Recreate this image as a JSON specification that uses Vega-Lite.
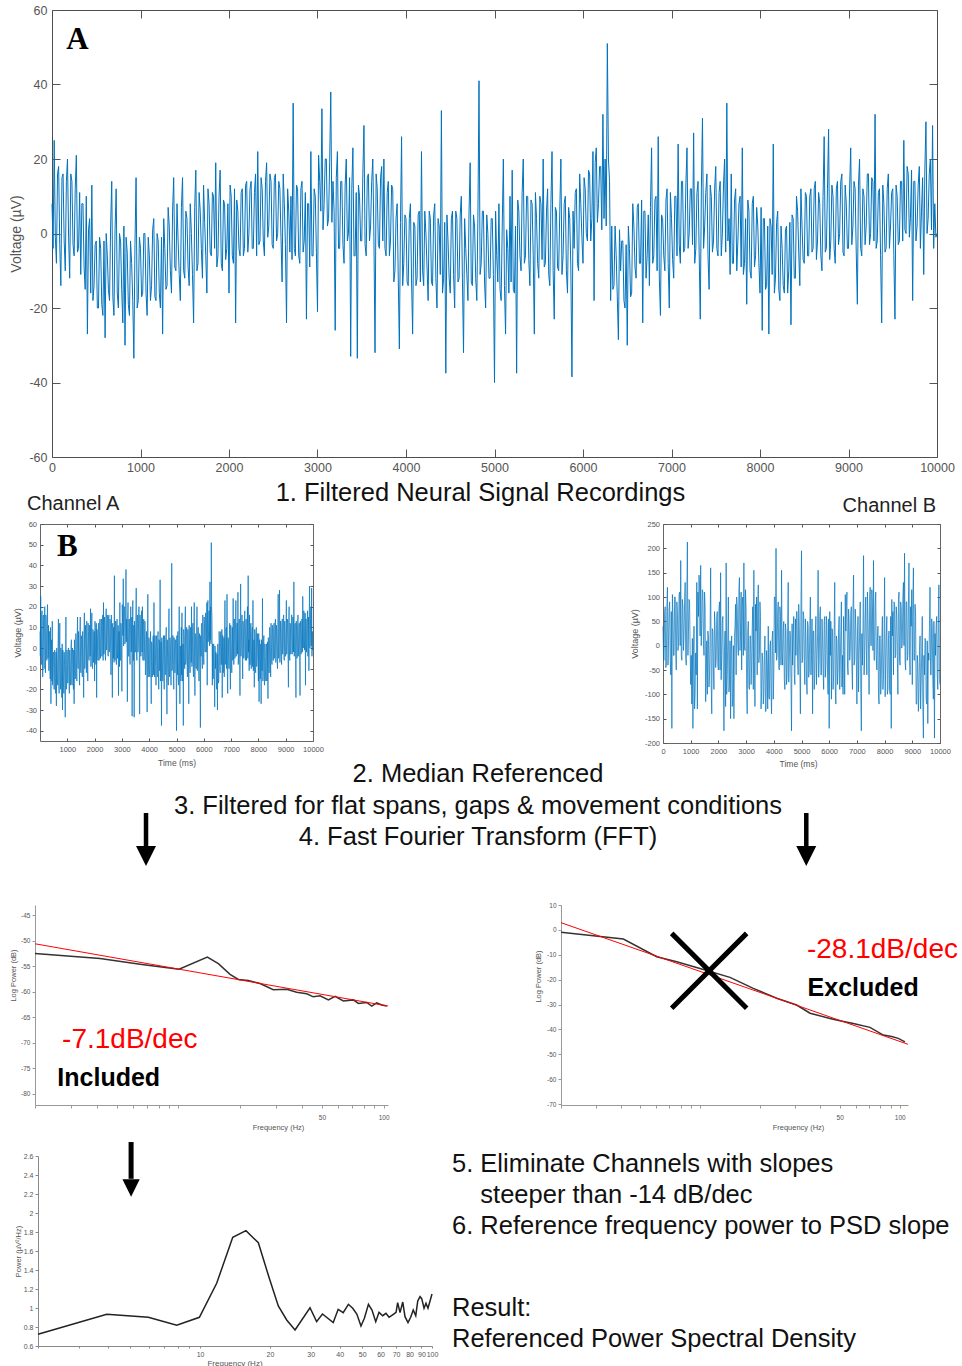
{
"$schema":"https://vega.github.io/schema/vega-lite/v6.json",
"padding":0,
"background":"white",
"config":{
 "font":"Liberation Sans",
 "view":{"stroke":null},
 "axis":{"grid":false,"labelFont":"Liberation Sans","titleFont":"Liberation Sans","titleFontWeight":"normal","labelFlush":false,"labelOverlap":false,"labelColor":"#555","titleColor":"#555","domainColor":"#555","tickColor":"#555"},
 "title":{"font":"Liberation Sans","fontWeight":"normal","color":"#111","subtitleFont":"Liberation Sans","subtitleColor":"#111"}
},
"datasets":{
"chA":[{"t":0,"v":8},{"t":12.5,"v":-4},{"t":25,"v":25},{"t":37.5,"v":-1},{"t":50,"v":-8},{"t":62.5,"v":16},{"t":75,"v":18},{"t":87.5,"v":-3},{"t":100,"v":-14},{"t":112.5,"v":15},{"t":125,"v":16},{"t":137.5,"v":-2},{"t":150,"v":-10},{"t":162.5,"v":14},{"t":175,"v":20},{"t":187.5,"v":-1},{"t":200,"v":-12},{"t":212.5,"v":16},{"t":225,"v":14},{"t":237.5,"v":-3},
{"t":250,"v":-6},{"t":262.5,"v":12},{"t":275,"v":21},{"t":287.5,"v":-5},{"t":300,"v":-4},{"t":312.5,"v":11},{"t":325,"v":-11},{"t":337.5,"v":8},{"t":350,"v":8},{"t":362.5,"v":-9},{"t":375,"v":-15},{"t":387.5,"v":10},{"t":400,"v":-27},{"t":412.5,"v":1},{"t":425,"v":4},{"t":437.5,"v":-16},{"t":450,"v":13},{"t":462.5,"v":-18},{"t":475,"v":-14},{"t":487.5,"v":-3},
{"t":500,"v":-2},{"t":512.5,"v":-20},{"t":525,"v":-20},{"t":537.5,"v":-1},{"t":550,"v":-4},{"t":562.5,"v":-19},{"t":575,"v":-22},{"t":587.5,"v":-2},{"t":600,"v":-28},{"t":612.5,"v":0},{"t":625,"v":-6},{"t":637.5,"v":-15},{"t":650,"v":-18},{"t":662.5,"v":2},{"t":675,"v":14},{"t":687.5,"v":-17},{"t":700,"v":-22},{"t":712.5,"v":1},{"t":725,"v":12},{"t":737.5,"v":-16},
{"t":750,"v":-20},{"t":762.5,"v":0},{"t":775,"v":-2},{"t":787.5,"v":-15},{"t":800,"v":-24},{"t":812.5,"v":2},{"t":825,"v":-30},{"t":837.5,"v":-1},{"t":850,"v":-5},{"t":862.5,"v":-19},{"t":875,"v":-22},{"t":887.5,"v":-2},{"t":900,"v":-8},{"t":912.5,"v":-18},{"t":925,"v":-33.5},{"t":937.5,"v":-3},{"t":950,"v":15},{"t":962.5,"v":-20},{"t":975,"v":-18},{"t":987.5,"v":-1},
{"t":1000,"v":-4},{"t":1012.5,"v":-17},{"t":1025,"v":-16},{"t":1037.5,"v":0},{"t":1050,"v":0},{"t":1062.5,"v":-16},{"t":1075,"v":-22},{"t":1087.5,"v":-1},{"t":1100,"v":-6},{"t":1112.5,"v":-18},{"t":1125,"v":-14},{"t":1137.5,"v":1},{"t":1150,"v":4},{"t":1162.5,"v":-17},{"t":1175,"v":-18},{"t":1187.5,"v":0},{"t":1200,"v":-2},{"t":1212.5,"v":-16},{"t":1225,"v":-20},{"t":1237.5,"v":-1},
{"t":1250,"v":-27},{"t":1262.5,"v":4},{"t":1275,"v":-4},{"t":1287.5,"v":-15},{"t":1300,"v":-14},{"t":1312.5,"v":7},{"t":1325,"v":2},{"t":1337.5,"v":-10},{"t":1350,"v":-16},{"t":1362.5,"v":6},{"t":1375,"v":15},{"t":1387.5,"v":-9},{"t":1400,"v":-10},{"t":1412.5,"v":8},{"t":1425,"v":-2},{"t":1437.5,"v":-11},{"t":1450,"v":-18},{"t":1462.5,"v":7},{"t":1475,"v":15},{"t":1487.5,"v":-10},
{"t":1500,"v":-12},{"t":1512.5,"v":6},{"t":1525,"v":4},{"t":1537.5,"v":-9},{"t":1550,"v":-14},{"t":1562.5,"v":8},{"t":1575,"v":0},{"t":1587.5,"v":-11},{"t":1600,"v":-24},{"t":1612.5,"v":7},{"t":1625,"v":17},{"t":1637.5,"v":-10},{"t":1650,"v":-8},{"t":1662.5,"v":11},{"t":1675,"v":6},{"t":1687.5,"v":-4},{"t":1700,"v":-12},{"t":1712.5,"v":13},{"t":1725,"v":3},{"t":1737.5,"v":-6},
{"t":1750,"v":-16},{"t":1762.5,"v":12},{"t":1775,"v":8},{"t":1787.5,"v":-5},{"t":1800,"v":-6},{"t":1812.5,"v":11},{"t":1825,"v":10},{"t":1837.5,"v":-4},{"t":1850,"v":19},{"t":1862.5,"v":-9},{"t":1875,"v":-6},{"t":1887.5,"v":10},{"t":1900,"v":17},{"t":1912.5,"v":-8},{"t":1925,"v":-10},{"t":1937.5,"v":9},{"t":1950,"v":8},{"t":1962.5,"v":-7},{"t":1975,"v":-4},{"t":1987.5,"v":8},
{"t":2000,"v":-16},{"t":2012.5,"v":13},{"t":2025,"v":10},{"t":2037.5,"v":-6},{"t":2050,"v":-8},{"t":2062.5,"v":12},{"t":2075,"v":-24},{"t":2087.5,"v":9},{"t":2100,"v":6},{"t":2112.5,"v":-4},{"t":2125,"v":-6},{"t":2137.5,"v":11},{"t":2150,"v":12},{"t":2162.5,"v":-6},{"t":2175,"v":-4},{"t":2187.5,"v":13},{"t":2200,"v":14},{"t":2212.5,"v":-5},{"t":2225,"v":0},{"t":2237.5,"v":12},
{"t":2250,"v":14},{"t":2262.5,"v":-4},{"t":2275,"v":-4},{"t":2287.5,"v":11},{"t":2300,"v":16},{"t":2312.5,"v":-6},{"t":2325,"v":22},{"t":2337.5,"v":-3},{"t":2350,"v":-2},{"t":2362.5,"v":15},{"t":2375,"v":12},{"t":2387.5,"v":-2},{"t":2400,"v":-6},{"t":2412.5,"v":14},{"t":2425,"v":19},{"t":2437.5,"v":-1},{"t":2450,"v":2},{"t":2462.5,"v":16},{"t":2475,"v":14},{"t":2487.5,"v":-3},
{"t":2500,"v":-4},{"t":2512.5,"v":15},{"t":2525,"v":16},{"t":2537.5,"v":-2},{"t":2550,"v":0},{"t":2562.5,"v":14},{"t":2575,"v":12},{"t":2587.5,"v":-1},{"t":2600,"v":-13},{"t":2612.5,"v":16},{"t":2625,"v":8},{"t":2637.5,"v":-3},{"t":2650,"v":-24},{"t":2662.5,"v":12},{"t":2675,"v":6},{"t":2687.5,"v":-5},{"t":2700,"v":10},{"t":2712.5,"v":-7},{"t":2725,"v":35},{"t":2737.5,"v":-4},
{"t":2750,"v":-6},{"t":2762.5,"v":13},{"t":2775,"v":12},{"t":2787.5,"v":-6},{"t":2800,"v":-8},{"t":2812.5,"v":12},{"t":2825,"v":14},{"t":2837.5,"v":-5},{"t":2850,"v":-2},{"t":2862.5,"v":11},{"t":2875,"v":-23},{"t":2887.5,"v":8},{"t":2900,"v":8},{"t":2912.5,"v":-9},{"t":2925,"v":22},{"t":2937.5,"v":-6},{"t":2950,"v":-6},{"t":2962.5,"v":12},{"t":2975,"v":10},{"t":2987.5,"v":-5},
{"t":3000,"v":-21},{"t":3012.5,"v":21},{"t":3025,"v":14},{"t":3037.5,"v":6},{"t":3050,"v":33.5},{"t":3062.5,"v":1},{"t":3075,"v":8},{"t":3087.5,"v":20},{"t":3100,"v":20},{"t":3112.5,"v":2},{"t":3125,"v":4},{"t":3137.5,"v":19},{"t":3150,"v":38},{"t":3162.5,"v":3},{"t":3175,"v":14},{"t":3187.5,"v":6},{"t":3200,"v":-26},{"t":3212.5,"v":15},{"t":3225,"v":22},{"t":3237.5,"v":-4},
{"t":3250,"v":-4},{"t":3262.5,"v":14},{"t":3275,"v":14},{"t":3287.5,"v":-3},{"t":3300,"v":-8},{"t":3312.5,"v":13},{"t":3325,"v":20},{"t":3337.5,"v":-2},{"t":3350,"v":0},{"t":3362.5,"v":15},{"t":3375,"v":-33},{"t":3387.5,"v":12},{"t":3400,"v":23},{"t":3412.5,"v":-6},{"t":3425,"v":-6},{"t":3437.5,"v":11},{"t":3450,"v":-33.5},{"t":3462.5,"v":13},{"t":3475,"v":10},{"t":3487.5,"v":-2},
{"t":3500,"v":-2},{"t":3512.5,"v":16},{"t":3525,"v":29},{"t":3537.5,"v":-3},{"t":3550,"v":-6},{"t":3562.5,"v":15},{"t":3575,"v":16},{"t":3587.5,"v":-2},{"t":3600,"v":2},{"t":3612.5,"v":14},{"t":3625,"v":20},{"t":3637.5,"v":-1},{"t":3650,"v":-32},{"t":3662.5,"v":16},{"t":3675,"v":12},{"t":3687.5,"v":-3},{"t":3700,"v":-4},{"t":3712.5,"v":15},{"t":3725,"v":18},{"t":3737.5,"v":-2},
{"t":3750,"v":20},{"t":3762.5,"v":-4},{"t":3775,"v":-6},{"t":3787.5,"v":11},{"t":3800,"v":14},{"t":3812.5,"v":-6},{"t":3825,"v":-2},{"t":3837.5,"v":13},{"t":3850,"v":12},{"t":3862.5,"v":-13},{"t":3875,"v":-10},{"t":3887.5,"v":4},{"t":3900,"v":8},{"t":3912.5,"v":-12},{"t":3925,"v":-31},{"t":3937.5,"v":3},{"t":3950,"v":26},{"t":3962.5,"v":-14},{"t":3975,"v":-8},{"t":3987.5,"v":5},
{"t":4000,"v":4},{"t":4012.5,"v":-13},{"t":4025,"v":-14},{"t":4037.5,"v":4},{"t":4050,"v":8},{"t":4062.5,"v":-12},{"t":4075,"v":-27},{"t":4087.5,"v":3},{"t":4100,"v":2},{"t":4112.5,"v":-14},{"t":4125,"v":-12},{"t":4137.5,"v":5},{"t":4150,"v":6},{"t":4162.5,"v":-13},{"t":4175,"v":22},{"t":4187.5,"v":-10},{"t":4200,"v":-14},{"t":4212.5,"v":6},{"t":4225,"v":0},{"t":4237.5,"v":-9},
{"t":4250,"v":-18},{"t":4262.5,"v":6},{"t":4275,"v":4},{"t":4287.5,"v":-13},{"t":4300,"v":-14},{"t":4312.5,"v":5},{"t":4325,"v":8},{"t":4337.5,"v":-12},{"t":4350,"v":-20},{"t":4362.5,"v":4},{"t":4375,"v":2},{"t":4387.5,"v":-11},{"t":4400,"v":33},{"t":4412.5,"v":-16},{"t":4425,"v":-12},{"t":4437.5,"v":3},{"t":4450,"v":-37.5},{"t":4462.5,"v":5},{"t":4475,"v":-2},{"t":4487.5,"v":-12},
{"t":4500,"v":-16},{"t":4512.5,"v":4},{"t":4525,"v":6},{"t":4537.5,"v":-11},{"t":4550,"v":-20},{"t":4562.5,"v":6},{"t":4575,"v":4},{"t":4587.5,"v":-13},{"t":4600,"v":-12},{"t":4612.5,"v":5},{"t":4625,"v":10},{"t":4637.5,"v":-12},{"t":4650,"v":-32},{"t":4662.5,"v":4},{"t":4675,"v":-4},{"t":4687.5,"v":-11},{"t":4700,"v":-18},{"t":4712.5,"v":6},{"t":4725,"v":19},{"t":4737.5,"v":-13},
{"t":4750,"v":-14},{"t":4762.5,"v":5},{"t":4775,"v":2},{"t":4787.5,"v":-12},{"t":4800,"v":-18},{"t":4812.5,"v":4},{"t":4825,"v":41},{"t":4837.5,"v":-11},{"t":4850,"v":-8},{"t":4862.5,"v":6},{"t":4875,"v":6},{"t":4887.5,"v":-13},{"t":4900,"v":-20},{"t":4912.5,"v":5},{"t":4925,"v":0},{"t":4937.5,"v":-12},{"t":4950,"v":-12},{"t":4962.5,"v":4},{"t":4975,"v":4},{"t":4987.5,"v":-11},
{"t":5000,"v":-40},{"t":5012.5,"v":6},{"t":5025,"v":-6},{"t":5037.5,"v":-13},{"t":5050,"v":8},{"t":5062.5,"v":-15},{"t":5075,"v":-18},{"t":5087.5,"v":2},{"t":5100,"v":20},{"t":5112.5,"v":-14},{"t":5125,"v":-27},{"t":5137.5,"v":1},{"t":5150,"v":-4},{"t":5162.5,"v":-16},{"t":5175,"v":10},{"t":5187.5,"v":-13},{"t":5200,"v":17},{"t":5212.5,"v":-15},{"t":5225,"v":-16},{"t":5237.5,"v":2},
{"t":5250,"v":-37.5},{"t":5262.5,"v":9},{"t":5275,"v":6},{"t":5287.5,"v":-6},{"t":5300,"v":-10},{"t":5312.5,"v":11},{"t":5325,"v":20},{"t":5337.5,"v":-8},{"t":5350,"v":-6},{"t":5362.5,"v":10},{"t":5375,"v":10},{"t":5387.5,"v":-7},{"t":5400,"v":-14},{"t":5412.5,"v":9},{"t":5425,"v":8},{"t":5437.5,"v":-6},{"t":5450,"v":-27},{"t":5462.5,"v":11},{"t":5475,"v":4},{"t":5487.5,"v":-8},
{"t":5500,"v":-12},{"t":5512.5,"v":10},{"t":5525,"v":8},{"t":5537.5,"v":-7},{"t":5550,"v":20},{"t":5562.5,"v":-9},{"t":5575,"v":-8},{"t":5587.5,"v":6},{"t":5600,"v":12},{"t":5612.5,"v":-11},{"t":5625,"v":-14},{"t":5637.5,"v":8},{"t":5650,"v":22},{"t":5662.5,"v":-10},{"t":5675,"v":-23},{"t":5687.5,"v":7},{"t":5700,"v":6},{"t":5712.5,"v":-9},{"t":5725,"v":-10},{"t":5737.5,"v":6},
{"t":5750,"v":20},{"t":5762.5,"v":-11},{"t":5775,"v":-6},{"t":5787.5,"v":8},{"t":5800,"v":10},{"t":5812.5,"v":-10},{"t":5825,"v":-16},{"t":5837.5,"v":7},{"t":5850,"v":4},{"t":5862.5,"v":-9},{"t":5875,"v":-38.5},{"t":5887.5,"v":6},{"t":5900,"v":-4},{"t":5912.5,"v":11},{"t":5925,"v":12},{"t":5937.5,"v":-8},{"t":5950,"v":-10},{"t":5962.5,"v":16},{"t":5975,"v":8},{"t":5987.5,"v":-1},
{"t":6000,"v":-8},{"t":6012.5,"v":15},{"t":6025,"v":12},{"t":6037.5,"v":0},{"t":6050,"v":-2},{"t":6062.5,"v":17},{"t":6075,"v":16},{"t":6087.5,"v":-2},{"t":6100,"v":4},{"t":6112.5,"v":22},{"t":6125,"v":-18},{"t":6137.5,"v":19},{"t":6150,"v":23},{"t":6162.5,"v":3},{"t":6175,"v":8},{"t":6187.5,"v":18},{"t":6200,"v":18},{"t":6212.5,"v":1},{"t":6225,"v":32},{"t":6237.5,"v":4},
{"t":6250,"v":20},{"t":6262.5,"v":2},{"t":6275,"v":51},{"t":6287.5,"v":20},{"t":6300,"v":14},{"t":6312.5,"v":-18},{"t":6325,"v":2},{"t":6337.5,"v":-15},{"t":6350,"v":-14},{"t":6362.5,"v":2},{"t":6375,"v":-6},{"t":6387.5,"v":-17},{"t":6400,"v":-28.5},{"t":6412.5,"v":1},{"t":6425,"v":-10},{"t":6437.5,"v":-2},{"t":6450,"v":-2},{"t":6462.5,"v":-18},{"t":6475,"v":-20},{"t":6487.5,"v":-3},
{"t":6500,"v":-30},{"t":6512.5,"v":2},{"t":6525,"v":-4},{"t":6537.5,"v":-17},{"t":6550,"v":-16},{"t":6562.5,"v":8},{"t":6575,"v":2},{"t":6587.5,"v":-9},{"t":6600,"v":-12},{"t":6612.5,"v":7},{"t":6625,"v":8},{"t":6637.5,"v":-8},{"t":6650,"v":-8},{"t":6662.5,"v":9},{"t":6675,"v":-24},{"t":6687.5,"v":6},{"t":6700,"v":6},{"t":6712.5,"v":-12},{"t":6725,"v":-6},{"t":6737.5,"v":5},
{"t":6750,"v":-14},{"t":6762.5,"v":7},{"t":6775,"v":23},{"t":6787.5,"v":-8},{"t":6800,"v":-6},{"t":6812.5,"v":9},{"t":6825,"v":10},{"t":6837.5,"v":-10},{"t":6850,"v":26},{"t":6862.5,"v":-12},{"t":6875,"v":-22},{"t":6887.5,"v":5},{"t":6900,"v":4},{"t":6912.5,"v":-6},{"t":6925,"v":-10},{"t":6937.5,"v":9},{"t":6950,"v":12},{"t":6962.5,"v":-8},{"t":6975,"v":-20},{"t":6987.5,"v":11},
{"t":7000,"v":4},{"t":7012.5,"v":-7},{"t":7025,"v":-12},{"t":7037.5,"v":10},{"t":7050,"v":10},{"t":7062.5,"v":-6},{"t":7075,"v":24},{"t":7087.5,"v":-3},{"t":7100,"v":-8},{"t":7112.5,"v":14},{"t":7125,"v":14},{"t":7137.5,"v":-5},{"t":7150,"v":-4},{"t":7162.5,"v":13},{"t":7175,"v":23},{"t":7187.5,"v":-4},{"t":7200,"v":0},{"t":7212.5,"v":12},{"t":7225,"v":12},{"t":7237.5,"v":-3},
{"t":7250,"v":27},{"t":7262.5,"v":-8},{"t":7275,"v":-4},{"t":7287.5,"v":11},{"t":7300,"v":14},{"t":7312.5,"v":-5},{"t":7325,"v":-23},{"t":7337.5,"v":12},{"t":7350,"v":31},{"t":7362.5,"v":-4},{"t":7375,"v":2},{"t":7387.5,"v":11},{"t":7400,"v":16},{"t":7412.5,"v":-6},{"t":7425,"v":-15},{"t":7437.5,"v":13},{"t":7450,"v":10},{"t":7462.5,"v":-5},{"t":7475,"v":-2},{"t":7487.5,"v":12},
{"t":7500,"v":18},{"t":7512.5,"v":-4},{"t":7525,"v":-6},{"t":7537.5,"v":11},{"t":7550,"v":14},{"t":7562.5,"v":-6},{"t":7575,"v":0},{"t":7587.5,"v":13},{"t":7600,"v":20},{"t":7612.5,"v":-5},{"t":7625,"v":35},{"t":7637.5,"v":-2},{"t":7650,"v":4},{"t":7662.5,"v":-11},{"t":7675,"v":16},{"t":7687.5,"v":-8},{"t":7700,"v":-8},{"t":7712.5,"v":9},{"t":7725,"v":12},{"t":7737.5,"v":-10},
{"t":7750,"v":-2},{"t":7762.5,"v":8},{"t":7775,"v":10},{"t":7787.5,"v":-9},{"t":7800,"v":23},{"t":7812.5,"v":-11},{"t":7825,"v":-8},{"t":7837.5,"v":4},{"t":7850,"v":-19},{"t":7862.5,"v":9},{"t":7875,"v":6},{"t":7887.5,"v":-10},{"t":7900,"v":-12},{"t":7912.5,"v":8},{"t":7925,"v":10},{"t":7937.5,"v":-9},{"t":7950,"v":-6},{"t":7962.5,"v":7},{"t":7975,"v":2},{"t":7987.5,"v":-8},
{"t":8000,"v":-16},{"t":8012.5,"v":7},{"t":8025,"v":-26},{"t":8037.5,"v":4},{"t":8050,"v":4},{"t":8062.5,"v":-15},{"t":8075,"v":-14},{"t":8087.5,"v":2},{"t":8100,"v":-27},{"t":8112.5,"v":4},{"t":8125,"v":2},{"t":8137.5,"v":-11},{"t":8150,"v":24},{"t":8162.5,"v":-16},{"t":8175,"v":-12},{"t":8187.5,"v":3},{"t":8200,"v":6},{"t":8212.5,"v":-15},{"t":8225,"v":-18},{"t":8237.5,"v":2},
{"t":8250,"v":-4},{"t":8262.5,"v":-14},{"t":8275,"v":-16},{"t":8287.5,"v":1},{"t":8300,"v":2},{"t":8312.5,"v":-16},{"t":8325,"v":-10},{"t":8337.5,"v":3},{"t":8350,"v":-24.5},{"t":8362.5,"v":5},{"t":8375,"v":4},{"t":8387.5,"v":-12},{"t":8400,"v":-12},{"t":8412.5,"v":10},{"t":8425,"v":6},{"t":8437.5,"v":-5},{"t":8450,"v":-14},{"t":8462.5,"v":12},{"t":8475,"v":2},{"t":8487.5,"v":-7},
{"t":8500,"v":-8},{"t":8512.5,"v":11},{"t":8525,"v":10},{"t":8537.5,"v":-6},{"t":8550,"v":-6},{"t":8562.5,"v":10},{"t":8575,"v":12},{"t":8587.5,"v":-5},{"t":8600,"v":-4},{"t":8612.5,"v":12},{"t":8625,"v":14},{"t":8637.5,"v":-7},{"t":8650,"v":-2},{"t":8662.5,"v":11},{"t":8675,"v":8},{"t":8687.5,"v":-6},{"t":8700,"v":-10},{"t":8712.5,"v":10},{"t":8725,"v":26},{"t":8737.5,"v":-5},
{"t":8750,"v":-4},{"t":8762.5,"v":12},{"t":8775,"v":28},{"t":8787.5,"v":-7},{"t":8800,"v":-2},{"t":8812.5,"v":13},{"t":8825,"v":10},{"t":8837.5,"v":-4},{"t":8850,"v":-8},{"t":8862.5,"v":12},{"t":8875,"v":14},{"t":8887.5,"v":-3},{"t":8900,"v":0},{"t":8912.5,"v":14},{"t":8925,"v":16},{"t":8937.5,"v":-5},{"t":8950,"v":-6},{"t":8962.5,"v":13},{"t":8975,"v":8},{"t":8987.5,"v":-4},
{"t":9000,"v":-4},{"t":9012.5,"v":12},{"t":9025,"v":23},{"t":9037.5,"v":-3},{"t":9050,"v":2},{"t":9062.5,"v":14},{"t":9075,"v":12},{"t":9087.5,"v":-5},{"t":9100,"v":-19},{"t":9112.5,"v":13},{"t":9125,"v":20},{"t":9137.5,"v":-4},{"t":9150,"v":-6},{"t":9162.5,"v":12},{"t":9175,"v":10},{"t":9187.5,"v":-3},{"t":9200,"v":2},{"t":9212.5,"v":16},{"t":9225,"v":16},{"t":9237.5,"v":-3},
{"t":9250,"v":0},{"t":9262.5,"v":15},{"t":9275,"v":14},{"t":9287.5,"v":-2},{"t":9300,"v":32},{"t":9312.5,"v":-4},{"t":9325,"v":-2},{"t":9337.5,"v":11},{"t":9350,"v":12},{"t":9362.5,"v":-6},{"t":9375,"v":-24},{"t":9387.5,"v":13},{"t":9400,"v":8},{"t":9412.5,"v":-5},{"t":9425,"v":-4},{"t":9437.5,"v":12},{"t":9450,"v":16},{"t":9462.5,"v":-4},{"t":9475,"v":2},{"t":9487.5,"v":11},
{"t":9500,"v":12},{"t":9512.5,"v":-6},{"t":9525,"v":-23},{"t":9537.5,"v":13},{"t":9550,"v":10},{"t":9562.5,"v":-3},{"t":9575,"v":-2},{"t":9587.5,"v":14},{"t":9600,"v":14},{"t":9612.5,"v":-2},{"t":9625,"v":25},{"t":9637.5,"v":1},{"t":9650,"v":0},{"t":9662.5,"v":18},{"t":9675,"v":16},{"t":9687.5,"v":-1},{"t":9700,"v":4},{"t":9712.5,"v":17},{"t":9725,"v":-18},{"t":9737.5,"v":14},
{"t":9750,"v":14},{"t":9762.5,"v":-2},{"t":9775,"v":2},{"t":9787.5,"v":13},{"t":9800,"v":18},{"t":9812.5,"v":-4},{"t":9825,"v":6},{"t":9837.5,"v":15},{"t":9850,"v":-11},{"t":9862.5,"v":17},{"t":9875,"v":30},{"t":9887.5,"v":0},{"t":9900,"v":4},{"t":9912.5,"v":16},{"t":9925,"v":20},{"t":9937.5,"v":1},{"t":9950,"v":29},{"t":9962.5,"v":-4},{"t":9975,"v":8},{"t":9987.5,"v":-1},
{"t":10000,"v":0}],
"chB":[{"t":0,"v":40},{"t":20,"v":-30},{"t":40,"v":-30},{"t":60,"v":70},{"t":80,"v":80},{"t":100,"v":-45},{"t":120,"v":-40},{"t":140,"v":80},{"t":160,"v":120},{"t":180,"v":-40},{"t":200,"v":10},{"t":220,"v":75},{"t":240,"v":90},{"t":260,"v":-30},{"t":280,"v":-60},{"t":300,"v":70},{"t":320,"v":-170},{"t":340,"v":105},{"t":360,"v":60},{"t":380,"v":-20},
{"t":400,"v":-20},{"t":420,"v":100},{"t":440,"v":100},{"t":460,"v":-15},{"t":480,"v":-50},{"t":500,"v":90},{"t":520,"v":70},{"t":540,"v":-10},{"t":560,"v":0},{"t":580,"v":105},{"t":600,"v":110},{"t":620,"v":0},{"t":640,"v":175},{"t":660,"v":-20},{"t":680,"v":-30},{"t":700,"v":95},{"t":720,"v":80},{"t":740,"v":-10},{"t":760,"v":20},{"t":780,"v":90},
{"t":800,"v":130},{"t":820,"v":-25},{"t":840,"v":-40},{"t":860,"v":100},{"t":880,"v":213},{"t":900,"v":-20},{"t":920,"v":30},{"t":940,"v":95},{"t":960,"v":90},{"t":980,"v":-10},{"t":1000,"v":-80},{"t":1020,"v":-20},{"t":1040,"v":-120},{"t":1060,"v":15},{"t":1080,"v":-170},{"t":1100,"v":-10},{"t":1120,"v":40},{"t":1140,"v":-130},{"t":1160,"v":-100},{"t":1180,"v":-15},
{"t":1200,"v":-60},{"t":1220,"v":130},{"t":1240,"v":-130},{"t":1260,"v":110},{"t":1280,"v":60},{"t":1300,"v":145},{"t":1320,"v":120},{"t":1340,"v":20},{"t":1360,"v":165},{"t":1380,"v":0},{"t":1400,"v":40},{"t":1420,"v":115},{"t":1440,"v":110},{"t":1460,"v":10},{"t":1480,"v":-20},{"t":1500,"v":110},{"t":1520,"v":80},{"t":1540,"v":-115},{"t":1560,"v":-60},{"t":1580,"v":10},
{"t":1600,"v":-100},{"t":1620,"v":30},{"t":1640,"v":20},{"t":1660,"v":-85},{"t":1680,"v":-60},{"t":1700,"v":20},{"t":1720,"v":160},{"t":1740,"v":-80},{"t":1760,"v":-140},{"t":1780,"v":35},{"t":1800,"v":30},{"t":1820,"v":-50},{"t":1840,"v":-90},{"t":1860,"v":70},{"t":1880,"v":40},{"t":1900,"v":-45},{"t":1920,"v":-30},{"t":1940,"v":60},{"t":1960,"v":70},{"t":1980,"v":-40},
{"t":2000,"v":-50},{"t":2020,"v":75},{"t":2040,"v":90},{"t":2060,"v":-50},{"t":2080,"v":150},{"t":2100,"v":-70},{"t":2120,"v":-20},{"t":2140,"v":45},{"t":2160,"v":60},{"t":2180,"v":-60},{"t":2200,"v":-175},{"t":2220,"v":-10},{"t":2240,"v":30},{"t":2260,"v":-125},{"t":2280,"v":170},{"t":2300,"v":-100},{"t":2320,"v":-60},{"t":2340,"v":20},{"t":2360,"v":100},{"t":2380,"v":-95},
{"t":2400,"v":-80},{"t":2420,"v":10},{"t":2440,"v":-150},{"t":2460,"v":-10},{"t":2480,"v":20},{"t":2500,"v":-125},{"t":2520,"v":-110},{"t":2540,"v":0},{"t":2560,"v":-150},{"t":2580,"v":20},{"t":2600,"v":40},{"t":2620,"v":85},{"t":2640,"v":-60},{"t":2660,"v":100},{"t":2680,"v":80},{"t":2700,"v":0},{"t":2720,"v":-20},{"t":2740,"v":115},{"t":2760,"v":140},{"t":2780,"v":-10},
{"t":2800,"v":30},{"t":2820,"v":110},{"t":2840,"v":-50},{"t":2860,"v":85},{"t":2880,"v":100},{"t":2900,"v":-20},{"t":2920,"v":170},{"t":2940,"v":0},{"t":2960,"v":-10},{"t":2980,"v":115},{"t":3000,"v":70},{"t":3020,"v":-90},{"t":3040,"v":-140},{"t":3060,"v":30},{"t":3080,"v":50},{"t":3100,"v":-85},{"t":3120,"v":-90},{"t":3140,"v":20},{"t":3160,"v":20},{"t":3180,"v":-80},
{"t":3200,"v":-40},{"t":3220,"v":35},{"t":3240,"v":80},{"t":3260,"v":-90},{"t":3280,"v":155},{"t":3300,"v":-30},{"t":3320,"v":-125},{"t":3340,"v":85},{"t":3360,"v":30},{"t":3380,"v":100},{"t":3400,"v":-60},{"t":3420,"v":80},{"t":3440,"v":125},{"t":3460,"v":-35},{"t":3480,"v":-20},{"t":3500,"v":90},{"t":3520,"v":60},{"t":3540,"v":-130},{"t":3560,"v":-90},{"t":3580,"v":-15},
{"t":3600,"v":-30},{"t":3620,"v":-120},{"t":3640,"v":-100},{"t":3660,"v":-20},{"t":3680,"v":20},{"t":3700,"v":-135},{"t":3720,"v":-135},{"t":3740,"v":-10},{"t":3760,"v":-40},{"t":3780,"v":-130},{"t":3800,"v":40},{"t":3820,"v":-105},{"t":3840,"v":-110},{"t":3860,"v":0},{"t":3880,"v":10},{"t":3900,"v":-100},{"t":3920,"v":-140},{"t":3940,"v":15},{"t":3960,"v":30},{"t":3980,"v":-110},
{"t":4000,"v":-60},{"t":4020,"v":100},{"t":4040,"v":100},{"t":4060,"v":-15},{"t":4080,"v":200},{"t":4100,"v":-30},{"t":4120,"v":-20},{"t":4140,"v":70},{"t":4160,"v":90},{"t":4180,"v":-45},{"t":4200,"v":-50},{"t":4220,"v":80},{"t":4240,"v":60},{"t":4260,"v":-40},{"t":4280,"v":155},{"t":4300,"v":-15},{"t":4320,"v":-40},{"t":4340,"v":30},{"t":4360,"v":50},{"t":4380,"v":-70},
{"t":4400,"v":-90},{"t":4420,"v":45},{"t":4440,"v":30},{"t":4460,"v":-80},{"t":4480,"v":-60},{"t":4500,"v":40},{"t":4520,"v":130},{"t":4540,"v":-75},{"t":4560,"v":-30},{"t":4580,"v":30},{"t":4600,"v":20},{"t":4620,"v":-70},{"t":4640,"v":-175},{"t":4660,"v":45},{"t":4680,"v":-40},{"t":4700,"v":20},{"t":4720,"v":60},{"t":4740,"v":-60},{"t":4760,"v":-80},{"t":4780,"v":55},
{"t":4800,"v":-20},{"t":4820,"v":70},{"t":4840,"v":70},{"t":4860,"v":-30},{"t":4880,"v":-60},{"t":4900,"v":85},{"t":4920,"v":40},{"t":4940,"v":-40},{"t":4960,"v":-140},{"t":4980,"v":80},{"t":5000,"v":195},{"t":5020,"v":-35},{"t":5040,"v":-30},{"t":5060,"v":70},{"t":5080,"v":60},{"t":5100,"v":-30},{"t":5120,"v":-80},{"t":5140,"v":55},{"t":5160,"v":20},{"t":5180,"v":-70},
{"t":5200,"v":-100},{"t":5220,"v":50},{"t":5240,"v":40},{"t":5260,"v":-65},{"t":5280,"v":-50},{"t":5300,"v":40},{"t":5320,"v":100},{"t":5340,"v":-60},{"t":5360,"v":-20},{"t":5380,"v":55},{"t":5400,"v":-140},{"t":5420,"v":30},{"t":5440,"v":30},{"t":5460,"v":-90},{"t":5480,"v":-60},{"t":5500,"v":25},{"t":5520,"v":60},{"t":5540,"v":-80},{"t":5560,"v":-30},{"t":5580,"v":20},
{"t":5600,"v":155},{"t":5620,"v":-65},{"t":5640,"v":-30},{"t":5660,"v":60},{"t":5680,"v":80},{"t":5700,"v":-60},{"t":5720,"v":-60},{"t":5740,"v":55},{"t":5760,"v":20},{"t":5780,"v":-50},{"t":5800,"v":-90},{"t":5820,"v":50},{"t":5840,"v":60},{"t":5860,"v":-65},{"t":5880,"v":-40},{"t":5900,"v":60},{"t":5920,"v":40},{"t":5940,"v":-60},{"t":5960,"v":-100},{"t":5980,"v":55},
{"t":6000,"v":-170},{"t":6020,"v":70},{"t":6040,"v":-20},{"t":6060,"v":50},{"t":6080,"v":-110},{"t":6100,"v":35},{"t":6120,"v":30},{"t":6140,"v":-90},{"t":6160,"v":-60},{"t":6180,"v":30},{"t":6200,"v":130},{"t":6220,"v":-85},{"t":6240,"v":-120},{"t":6260,"v":20},{"t":6280,"v":10},{"t":6300,"v":-80},{"t":6320,"v":-50},{"t":6340,"v":35},{"t":6360,"v":60},{"t":6380,"v":-90},
{"t":6400,"v":-40},{"t":6420,"v":30},{"t":6440,"v":90},{"t":6460,"v":-85},{"t":6480,"v":-20},{"t":6500,"v":-100},{"t":6520,"v":60},{"t":6540,"v":-10},{"t":6560,"v":-100},{"t":6580,"v":105},{"t":6600,"v":30},{"t":6620,"v":80},{"t":6640,"v":110},{"t":6660,"v":-40},{"t":6680,"v":-60},{"t":6700,"v":75},{"t":6720,"v":50},{"t":6740,"v":-30},{"t":6760,"v":-10},{"t":6780,"v":70},
{"t":6800,"v":80},{"t":6820,"v":-45},{"t":6840,"v":-90},{"t":6860,"v":80},{"t":6880,"v":145},{"t":6900,"v":-40},{"t":6920,"v":-30},{"t":6940,"v":75},{"t":6960,"v":40},{"t":6980,"v":-30},{"t":7000,"v":-120},{"t":7020,"v":20},{"t":7040,"v":60},{"t":7060,"v":-95},{"t":7080,"v":-20},{"t":7100,"v":30},{"t":7120,"v":90},{"t":7140,"v":-90},{"t":7160,"v":-175},{"t":7180,"v":25},
{"t":7200,"v":-40},{"t":7220,"v":40},{"t":7240,"v":185},{"t":7260,"v":-60},{"t":7280,"v":-20},{"t":7300,"v":55},{"t":7320,"v":100},{"t":7340,"v":-10},{"t":7360,"v":-60},{"t":7380,"v":110},{"t":7400,"v":60},{"t":7420,"v":-5},{"t":7440,"v":-100},{"t":7460,"v":100},{"t":7480,"v":120},{"t":7500,"v":0},{"t":7520,"v":0},{"t":7540,"v":115},{"t":7560,"v":80},{"t":7580,"v":-10},
{"t":7600,"v":175},{"t":7620,"v":-30},{"t":7640,"v":-30},{"t":7660,"v":85},{"t":7680,"v":110},{"t":7700,"v":-20},{"t":7720,"v":-50},{"t":7740,"v":10},{"t":7760,"v":40},{"t":7780,"v":-105},{"t":7800,"v":-120},{"t":7820,"v":20},{"t":7840,"v":20},{"t":7860,"v":-100},{"t":7880,"v":-70},{"t":7900,"v":15},{"t":7920,"v":60},{"t":7940,"v":-90},{"t":7960,"v":-60},{"t":7980,"v":10},
{"t":8000,"v":140},{"t":8020,"v":-105},{"t":8040,"v":-40},{"t":8060,"v":20},{"t":8080,"v":60},{"t":8100,"v":-100},{"t":8120,"v":-90},{"t":8140,"v":15},{"t":8160,"v":30},{"t":8180,"v":-90},{"t":8200,"v":-100},{"t":8220,"v":60},{"t":8240,"v":-170},{"t":8260,"v":95},{"t":8280,"v":20},{"t":8300,"v":70},{"t":8320,"v":-60},{"t":8340,"v":90},{"t":8360,"v":85},{"t":8380,"v":-25},
{"t":8400,"v":-20},{"t":8420,"v":80},{"t":8440,"v":60},{"t":8460,"v":-20},{"t":8480,"v":-100},{"t":8500,"v":95},{"t":8520,"v":110},{"t":8540,"v":-30},{"t":8560,"v":-40},{"t":8580,"v":90},{"t":8600,"v":80},{"t":8620,"v":-5},{"t":8640,"v":10},{"t":8660,"v":100},{"t":8680,"v":130},{"t":8700,"v":0},{"t":8720,"v":190},{"t":8740,"v":-35},{"t":8760,"v":-50},{"t":8780,"v":90},
{"t":8800,"v":90},{"t":8820,"v":-30},{"t":8840,"v":-20},{"t":8860,"v":85},{"t":8880,"v":170},{"t":8900,"v":-20},{"t":8920,"v":-60},{"t":8940,"v":80},{"t":8960,"v":40},{"t":8980,"v":115},{"t":9000,"v":-80},{"t":9020,"v":90},{"t":9040,"v":160},{"t":9060,"v":-30},{"t":9080,"v":-30},{"t":9100,"v":85},{"t":9120,"v":60},{"t":9140,"v":-120},{"t":9160,"v":-120},{"t":9180,"v":-20},
{"t":9200,"v":-40},{"t":9220,"v":-135},{"t":9240,"v":-100},{"t":9260,"v":-10},{"t":9280,"v":20},{"t":9300,"v":-130},{"t":9320,"v":-80},{"t":9340,"v":-15},{"t":9360,"v":60},{"t":9380,"v":-120},{"t":9400,"v":-190},{"t":9420,"v":-20},{"t":9440,"v":-60},{"t":9460,"v":15},{"t":9480,"v":10},{"t":9500,"v":-110},{"t":9520,"v":-120},{"t":9540,"v":10},{"t":9560,"v":-160},{"t":9580,"v":-15},
{"t":9600,"v":-30},{"t":9620,"v":40},{"t":9640,"v":120},{"t":9660,"v":-60},{"t":9680,"v":-60},{"t":9700,"v":55},{"t":9720,"v":40},{"t":9740,"v":-70},{"t":9760,"v":-110},{"t":9780,"v":50},{"t":9800,"v":-190},{"t":9820,"v":25},{"t":9840,"v":-20},{"t":9860,"v":40},{"t":9880,"v":60},{"t":9900,"v":-60},{"t":9920,"v":-90},{"t":9940,"v":55},{"t":9960,"v":125},{"t":9980,"v":-70},
{"t":10000,"v":-80}],
"psdA":[{"f":2,"db":-52.5},{"f":4.15,"db":-53.5},{"f":6.5,"db":-54.6},{"f":10.07,"db":-55.6},{"f":13.83,"db":-53.2},{"f":15.65,"db":-54.5},{"f":17.84,"db":-56.6},{"f":19.6,"db":-57.6},{"f":21.9,"db":-57.8},{"f":24.97,"db":-58.4},{"f":29,"db":-59.6},{"f":33.7,"db":-59.5},{"f":37.7,"db":-60.1},{"f":42.2,"db":-60.4},{"f":45.4,"db":-61},{"f":49,"db":-60.8},{"f":53.8,"db":-61.6},{"f":58,"db":-60.9},{"f":63.6,"db":-61.8},{"f":71.2,"db":-61.6},{"f":75.3,"db":-62.3},{"f":82.7,"db":-62.1},{"f":87.5,"db":-62.8},{"f":92.5,"db":-62.2},{"f":97.9,"db":-62.6},{"f":103.5,"db":-62.8}],
"fitA":[{"f":2,"db":-50.6},{"f":105,"db":-62.8}],
"psdB":[{"f":2,"db":-1.0},{"f":4.11,"db":-3.7},{"f":6.04,"db":-10.8},{"f":7.61,"db":-12.8},{"f":9.95,"db":-15.5},{"f":14.08,"db":-19.1},{"f":18.43,"db":-23.5},{"f":24.14,"db":-27.5},{"f":30.4,"db":-30.2},{"f":35.5,"db":-33.5},{"f":44.7,"db":-35.6},{"f":50.1,"db":-36.5},{"f":58.5,"db":-37.6},{"f":70.9,"db":-39.2},{"f":82.7,"db":-42.3},{"f":91.1,"db":-42.9},{"f":98.3,"db":-43.6},{"f":106.2,"db":-45.0}],
"fitB":[{"f":2,"db":2.9},{"f":110,"db":-46.0}],
"xmark":[{"f1":7.18,"f2":17.07,"d1":-1.4,"d2":-31.5},{"f1":17.07,"f2":7.18,"d1":-1.4,"d2":-31.5}],
"psdRef":[{"f":2,"p":0.723},{"f":3.96,"p":0.934},{"f":5.98,"p":0.902},{"f":7.93,"p":0.818},{"f":9.93,"p":0.902},{"f":11.79,"p":1.26},{"f":13.83,"p":1.744},{"f":15.77,"p":1.814},{"f":17.83,"p":1.687},{"f":19.88,"p":1.313},{"f":21.74,"p":1.021},{"f":23.63,"p":0.874},{"f":25.67,"p":0.768},{"f":29.78,"p":1.003},{"f":31.8,"p":0.856},{"f":33.7,"p":0.937},{"f":37.5,"p":0.846},{"f":39.4,"p":0.986},{"f":41.4,"p":0.951},{"f":43.6,"p":1.039},{"f":45.5,"p":0.997},{"f":47.4,"p":0.937},{"f":49.4,"p":0.811},{"f":51.1,"p":0.892},{"f":53.2,"p":1.039},{"f":55.1,"p":0.979},{"f":57.2,"p":0.856},{"f":59.1,"p":0.954},{"f":61.3,"p":0.919},{"f":63.3,"p":0.944},{"f":65.3,"p":0.902},{"f":68.1,"p":0.934},{"f":70,"p":0.954},{"f":71.1,"p":1.056},{"f":72.8,"p":0.951},{"f":74.8,"p":1.063},{"f":76.5,"p":0.909},{"f":78.8,"p":0.846},{"f":80.9,"p":0.902},{"f":83,"p":0.979},{"f":85.1,"p":0.919},{"f":86.8,"p":1.074},{"f":88.8,"p":1.119},{"f":90.3,"p":1.098},{"f":92.4,"p":0.997},{"f":94.2,"p":1.049},{"f":96.1,"p":0.997},{"f":100,"p":1.147}]
},
"spacing":0,
"bounds":"flush",
"vconcat":[
{"width":962,"height":10,"data":{"values":[]},"mark":"point"},

{"width":937,"height":447,
 "layer":[
  {"data":{"name":"chA"},
   "mark":{"type":"line","color":"#0072BD","strokeWidth":1},
   "encoding":{
    "x":{"field":"t","type":"quantitative","scale":{"domain":[0,10000],"range":[52,937],"nice":false},
     "axis":{"orient":"bottom","values":[0,1000,2000,3000,4000,5000,6000,7000,8000,9000,10000],"format":"d","domainColor":"#4d4d4d","tickSize":-8,"labelPadding":12,"labelFontSize":12.5,"labelOverlap":false,
      "title":"1. Filtered Neural Signal Recordings","titleFontSize":25.5,"titleColor":"#111","titleX":480,"titleY":43,"titleAlign":"center","titleBaseline":"alphabetic"}},
    "y":{"field":"v","type":"quantitative","scale":{"domain":[-60,60],"nice":false},
     "axis":{"orient":"left","offset":-52,"values":[-60,-40,-20,0,20,40,60],"format":"d","domainColor":"#4d4d4d","tickSize":-8,"labelPadding":13,"labelFontSize":12.5,"labelOverlap":false,"labelExpr":"replace(datum.label,'−','-')",
      "title":"Voltage (µV)","titleFontSize":14,"titleX":-36,"titleBaseline":"middle"}}
   }},
  {"data":{"values":[{}]},
   "mark":{"type":"text","text":"A","font":"Liberation Serif","fontWeight":"bold","fontSize":31,"align":"left","baseline":"middle","color":"black"},
   "encoding":{
    "x":{"datum":160,"type":"quantitative","scale":{"domain":[0,10000],"range":[52,937],"nice":false},
     "axis":{"orient":"top","values":[0,1000,2000,3000,4000,5000,6000,7000,8000,9000,10000],"labels":false,"domainColor":"#4d4d4d","tickSize":-8,"title":null}},
    "y":{"datum":52,"type":"quantitative","scale":{"domain":[-60,60],"nice":false},
     "axis":{"orient":"right","values":[-60,-40,-20,0,20,40,60],"labels":false,"domainColor":"#4d4d4d","tickSize":-8,"title":null}}
   }}
 ],
 "resolve":{"axis":{"x":"independent","y":"independent"}}
},

{"width":962,"height":33,"data":{"values":[]},"mark":"point",
 "title":{"text":"Channel A","orient":"bottom","anchor":"start","frame":"group","dx":27,"offset":4,"fontSize":20,"color":"#222"}},
{"width":962,"height":34,"data":{"values":[]},"mark":"point",
 "title":{"text":"Channel B","orient":"bottom","anchor":"end","frame":"group","dx":-26,"offset":-28,"fontSize":20,"color":"#222"}},

{"width":940,"height":219,
 "layer":[
  {"layer":[
    {"data":{"name":"chA"},
     "mark":{"type":"line","color":"#0072BD","strokeWidth":0.7},
     "encoding":{
      "x":{"field":"t","type":"quantitative","scale":{"domain":[0,10000],"range":[40,313],"nice":false},
       "axis":{"orient":"bottom","offset":-2,"values":[1000,2000,3000,4000,5000,6000,7000,8000,9000,10000],"format":"d","domainColor":"#666","tickSize":-3,"labelPadding":7,"labelFontSize":7.5,"labelOverlap":false,
        "title":"Time (ms)","titleFontSize":8.5,"titleX":176.5,"titleY":21,"titleBaseline":"middle"}},
      "y":{"field":"v","type":"quantitative","scale":{"domain":[-45,60],"range":[217,0],"nice":false},
       "axis":{"orient":"left","offset":-40,"values":[-40,-30,-20,-10,0,10,20,30,40,50,60],"format":"d","domainColor":"#666","tickSize":-3,"labelPadding":6.5,"labelFontSize":7.5,"labelOverlap":false,"labelExpr":"replace(datum.label,'−','-')",
        "title":"Voltage (µV)","titleFontSize":9,"titleX":-23,"titleBaseline":"middle"}}
     }},
    {"data":{"values":[{}]},
     "mark":{"type":"text","text":"B","font":"Liberation Serif","fontWeight":"bold","fontSize":31,"align":"left","baseline":"middle","color":"black"},
     "encoding":{
      "x":{"datum":620,"type":"quantitative","scale":{"domain":[0,10000],"range":[40,313],"nice":false},
       "axis":{"orient":"top","values":[1000,2000,3000,4000,5000,6000,7000,8000,9000,10000],"labels":false,"domainColor":"#666","tickSize":-3,"title":null}},
      "y":{"datum":49,"type":"quantitative","scale":{"domain":[-45,60],"range":[217,0],"nice":false},
       "axis":{"orient":"right","offset":-627,"values":[-40,-30,-20,-10,0,10,20,30,40,50,60],"labels":false,"domainColor":"#666","tickSize":-3,"title":null}}
     }}
   ],
   "resolve":{"axis":{"x":"independent","y":"independent"}}},
  {"layer":[
    {"data":{"name":"chB"},
     "mark":{"type":"line","color":"#0072BD","strokeWidth":0.7},
     "encoding":{
      "x":{"field":"t","type":"quantitative","scale":{"domain":[0,10000],"range":[663,940],"nice":false},
       "axis":{"orient":"bottom","values":[0,1000,2000,3000,4000,5000,6000,7000,8000,9000,10000],"format":"d","domainColor":"#666","tickSize":-3,"labelPadding":7,"labelFontSize":7.5,"labelOverlap":false,
        "title":"Time (ms)","titleFontSize":8.5,"titleX":798,"titleY":20,"titleBaseline":"middle"}},
      "y":{"field":"v","type":"quantitative","scale":{"domain":[-200,250],"nice":false},
       "axis":{"orient":"left","offset":-663,"values":[-200,-150,-100,-50,0,50,100,150,200,250],"format":"d","domainColor":"#666","tickSize":-3,"labelPadding":6.5,"labelFontSize":7.5,"labelOverlap":false,"labelExpr":"replace(datum.label,'−','-')",
        "title":"Voltage (µV)","titleFontSize":9,"titleX":-29,"titleBaseline":"middle"}}
     }},
    {"data":{"values":[{}]},
     "mark":{"type":"text","text":"","fontSize":1},
     "encoding":{
      "x":{"datum":0,"type":"quantitative","scale":{"domain":[0,10000],"range":[663,940],"nice":false},
       "axis":{"orient":"top","values":[0,1000,2000,3000,4000,5000,6000,7000,8000,9000,10000],"labels":false,"domainColor":"#666","tickSize":-3,"title":null}},
      "y":{"datum":0,"type":"quantitative","scale":{"domain":[-200,250],"nice":false},
       "axis":{"orient":"right","values":[-200,-150,-100,-50,0,50,100,150,200,250],"labels":false,"domainColor":"#666","tickSize":-3,"title":null}}
     }}
   ],
   "resolve":{"axis":{"x":"independent","y":"independent"}}}
 ],
 "resolve":{"scale":{"x":"independent","y":"independent"},"axis":{"x":"independent","y":"independent"}}
},

{"width":962,"height":162,"data":{"values":[]},"mark":"point",
 "title":{"text":["2. Median Referenced","3. Filtered for flat spans, gaps & movement conditions","4. Fast Fourier Transform (FFT)"],"orient":"bottom","anchor":"middle","frame":"group","offset":-143,"dx":-3,"fontSize":25.5,"lineHeight":31.5,"color":"#111"}},

{"width":908,"height":200,
 "layer":[
  {"layer":[
    {"data":{"name":"psdA"},
     "mark":{"type":"line","color":"#333","strokeWidth":1.5},
     "encoding":{
      "x":{"field":"f","type":"quantitative","scale":{"type":"log","domain":[2,105],"range":[35,388],"nice":false},
       "axis":{"orient":"bottom","values":[2,3,4,5,6,7,8,9,10,20,30,40,50,60,70,80,90,100],"format":"d","labelExpr":"datum.value == 50 || datum.value == 100 ? datum.label : ''","tickSize":3,"labelPadding":6,"labelFontSize":6.5,"labelOverlap":false,"domainColor":"#999","tickColor":"#999",
        "title":"Frequency (Hz)","titleFontSize":7.5,"titleX":278,"titleY":22,"titleBaseline":"middle"}},
      "y":{"field":"db","type":"quantitative","scale":{"domain":[-82.2,-43],"nice":false},
       "axis":{"orient":"left","offset":-35,"values":[-80,-75,-70,-65,-60,-55,-50,-45],"format":"d","labelExpr":"replace(datum.label,'−','-')","tickSize":3,"labelPadding":2,"labelFontSize":6.5,"labelOverlap":false,"domainColor":"#999","tickColor":"#999",
        "title":"Log Power (dB)","titleFontSize":7.5,"titleX":-21.5,"titleY":70,"titleBaseline":"middle"}}
     }},
    {"data":{"name":"fitA"},
     "mark":{"type":"line","color":"#ff0000","strokeWidth":1},
     "encoding":{
      "x":{"field":"f","type":"quantitative","scale":{"type":"log","domain":[2,105],"range":[35,388],"nice":false},"axis":null},
      "y":{"field":"db","type":"quantitative","scale":{"domain":[-82.2,-43],"nice":false},"axis":null}
     }},
    {"data":{"values":[{}]},
     "mark":{"type":"text","text":"-7.1dB/dec","fontSize":28,"color":"#ff0000","align":"left","baseline":"alphabetic"},
     "encoding":{
      "x":{"datum":2.71,"type":"quantitative","scale":{"type":"log","domain":[2,105],"range":[35,388],"nice":false},"axis":null},
      "y":{"datum":-71.0,"type":"quantitative","scale":{"domain":[-82.2,-43],"nice":false},"axis":null}
     }},
    {"data":{"values":[{}]},
     "mark":{"type":"text","text":"Included","fontSize":25,"fontWeight":"bold","color":"black","align":"left","baseline":"alphabetic"},
     "encoding":{
      "x":{"datum":2.57,"type":"quantitative","scale":{"type":"log","domain":[2,105],"range":[35,388],"nice":false},"axis":null},
      "y":{"datum":-78.5,"type":"quantitative","scale":{"domain":[-82.2,-43],"nice":false},"axis":null}
     }},
    {"data":{"values":[{}]},
     "mark":{"type":"rule","strokeWidth":4.5,"color":"black"},
     "encoding":{
      "x":{"datum":6.95,"type":"quantitative","scale":{"type":"log","domain":[2,105],"range":[35,388],"nice":false},"axis":null},
      "y":{"datum":-24.97,"type":"quantitative","scale":{"domain":[-82.2,-43],"nice":false},"axis":null},
      "y2":{"datum":-32.2}
     }},
    {"data":{"values":[{}]},
     "mark":{"type":"point","shape":"M-1,-1L1,-1L0,1Z","size":400,"filled":true,"color":"black","opacity":1,"strokeWidth":0},
     "encoding":{
      "x":{"datum":6.95,"type":"quantitative","scale":{"type":"log","domain":[2,105],"range":[35,388],"nice":false},"axis":null},
      "y":{"datum":-33.4,"type":"quantitative","scale":{"domain":[-82.2,-43],"nice":false},"axis":null}
     }}
   ],
   "resolve":{"axis":{"x":"independent","y":"independent"}}},
  {"layer":[
    {"data":{"name":"psdB"},
     "mark":{"type":"line","color":"#333","strokeWidth":1.5},
     "encoding":{
      "x":{"field":"f","type":"quantitative","scale":{"type":"log","domain":[2,110],"range":[561,908],"nice":false},
       "axis":{"orient":"bottom","values":[2,3,4,5,6,7,8,9,10,20,30,40,50,60,70,80,90,100],"format":"d","labelExpr":"datum.value == 50 || datum.value == 100 ? datum.label : ''","tickSize":3,"labelPadding":6,"labelFontSize":6.5,"labelOverlap":false,"domainColor":"#999","tickColor":"#999",
        "title":"Frequency (Hz)","titleFontSize":7.5,"titleX":798,"titleY":22,"titleBaseline":"middle"}},
      "y":{"field":"db","type":"quantitative","scale":{"domain":[-70.4,10],"nice":false},
       "axis":{"orient":"left","offset":-561,"values":[-70,-60,-50,-40,-30,-20,-10,0,10],"format":"d","labelExpr":"replace(datum.label,'−','-')","tickSize":3,"labelPadding":2,"labelFontSize":6.5,"labelOverlap":false,"domainColor":"#999","tickColor":"#999",
        "title":"Log Power (dB)","titleFontSize":7.5,"titleX":-23,"titleY":71,"titleBaseline":"middle"}}
     }},
    {"data":{"name":"fitB"},
     "mark":{"type":"line","color":"#ff0000","strokeWidth":1},
     "encoding":{
      "x":{"field":"f","type":"quantitative","scale":{"type":"log","domain":[2,110],"range":[561,908],"nice":false},"axis":null},
      "y":{"field":"db","type":"quantitative","scale":{"domain":[-70.4,10],"nice":false},"axis":null}
     }},
    {"data":{"name":"xmark"},
     "mark":{"type":"rule","strokeWidth":5,"color":"black"},
     "encoding":{
      "x":{"field":"f1","type":"quantitative","scale":{"type":"log","domain":[2,110],"range":[561,908],"nice":false},"axis":null},
      "x2":{"field":"f2"},
      "y":{"field":"d1","type":"quantitative","scale":{"domain":[-70.4,10],"nice":false},"axis":null},
      "y2":{"field":"d2"}
     }},
    {"data":{"values":[{}]},
     "mark":{"type":"text","text":"-28.1dB/dec","fontSize":28,"color":"#ff0000","align":"left","baseline":"alphabetic"},
     "encoding":{
      "x":{"datum":34.25,"type":"quantitative","scale":{"type":"log","domain":[2,110],"range":[561,908],"nice":false},"axis":null},
      "y":{"datum":-11.3,"type":"quantitative","scale":{"domain":[-70.4,10],"nice":false},"axis":null}
     }},
    {"data":{"values":[{}]},
     "mark":{"type":"text","text":"Excluded","fontSize":25,"fontWeight":"bold","color":"black","align":"left","baseline":"alphabetic"},
     "encoding":{
      "x":{"datum":34.5,"type":"quantitative","scale":{"type":"log","domain":[2,110],"range":[561,908],"nice":false},"axis":null},
      "y":{"datum":-26.6,"type":"quantitative","scale":{"domain":[-70.4,10],"nice":false},"axis":null}
     }},
    {"data":{"values":[{}]},
     "mark":{"type":"rule","strokeWidth":4.5,"color":"black"},
     "encoding":{
      "x":{"datum":33.98,"type":"quantitative","scale":{"type":"log","domain":[2,110],"range":[561,908],"nice":false},"axis":null},
      "y":{"datum":46.98,"type":"quantitative","scale":{"domain":[-70.4,10],"nice":false},"axis":null},
      "y2":{"datum":32.1}
     }},
    {"data":{"values":[{}]},
     "mark":{"type":"point","shape":"M-1,-1L1,-1L0,1Z","size":400,"filled":true,"color":"black","opacity":1,"strokeWidth":0},
     "encoding":{
      "x":{"datum":33.98,"type":"quantitative","scale":{"type":"log","domain":[2,110],"range":[561,908],"nice":false},"axis":null},
      "y":{"datum":29.7,"type":"quantitative","scale":{"domain":[-70.4,10],"nice":false},"axis":null}
     }}
   ],
   "resolve":{"axis":{"x":"independent","y":"independent"}}}
 ],
 "resolve":{"scale":{"x":"independent","y":"independent"},"axis":{"x":"independent","y":"independent"}}
},

{"width":962,"height":51,"data":{"values":[]},"mark":"point",
 "title":{"text":["5. Eliminate Channels with slopes","\u200b\u00a0\u00a0\u00a0\u00a0steeper than -14 dB/dec","6. Reference frequency power to PSD slope"],
  "subtitle":["Result:","Referenced Power Spectral Density"],
  "orient":"bottom","anchor":"start","frame":"group","dx":452,"offset":-4,"fontSize":25.5,"lineHeight":31,"color":"#111",
  "subtitleFontSize":25.5,"subtitleLineHeight":31,"subtitlePadding":56,"subtitleColor":"#111"}},

{"width":432,"height":190,
 "layer":[
  {"data":{"name":"psdRef"},
   "mark":{"type":"line","color":"#222","strokeWidth":1.5},
   "encoding":{
    "x":{"field":"f","type":"quantitative","scale":{"type":"log","domain":[2,100],"range":[38,432],"nice":false},
     "axis":{"orient":"bottom","values":[2,3,4,5,6,7,8,9,10,20,30,40,50,60,70,80,90,100],"format":"d","labelExpr":"datum.value >= 10 ? datum.label : ''","tickSize":2,"labelPadding":2,"labelFontSize":7,"labelOverlap":false,"domainColor":"#888","tickColor":"#888",
      "title":"Frequency (Hz)","titleFontSize":8,"titleX":234.5,"titleY":17,"titleBaseline":"middle"}},
    "y":{"field":"p","type":"quantitative","scale":{"domain":[0.6,2.6],"nice":false},
     "axis":{"orient":"left","offset":-38,"values":[0.6,0.8,1,1.2,1.4,1.6,1.8,2,2.2,2.4,2.6],"format":"~g","tickSize":3,"labelPadding":2,"labelFontSize":7,"labelOverlap":false,"domainColor":"#888","tickColor":"#888",
      "title":"Power (µV²/Hz)","titleFontSize":7.5,"titleX":-19.5,"titleBaseline":"middle"}}
   }},
  {"data":{"values":[{}]},
   "mark":{"type":"rule","strokeWidth":5,"color":"black"},
   "encoding":{
    "x":{"datum":5.04,"type":"quantitative","scale":{"type":"log","domain":[2,100],"range":[38,432],"nice":false},"axis":null},
    "y":{"datum":2.747,"type":"quantitative","scale":{"domain":[0.6,2.6],"nice":false},"axis":null},
    "y2":{"datum":2.36}
   }},
  {"data":{"values":[{}]},
   "mark":{"type":"point","shape":"M-1,-1L1,-1L0,1Z","size":300,"filled":true,"color":"black","opacity":1,"strokeWidth":0},
   "encoding":{
    "x":{"datum":5.04,"type":"quantitative","scale":{"type":"log","domain":[2,100],"range":[38,432],"nice":false},"axis":null},
    "y":{"datum":2.263,"type":"quantitative","scale":{"domain":[0.6,2.6],"nice":false},"axis":null}
   }}
 ],
 "resolve":{"axis":{"x":"independent","y":"independent"}}
}
]
}
